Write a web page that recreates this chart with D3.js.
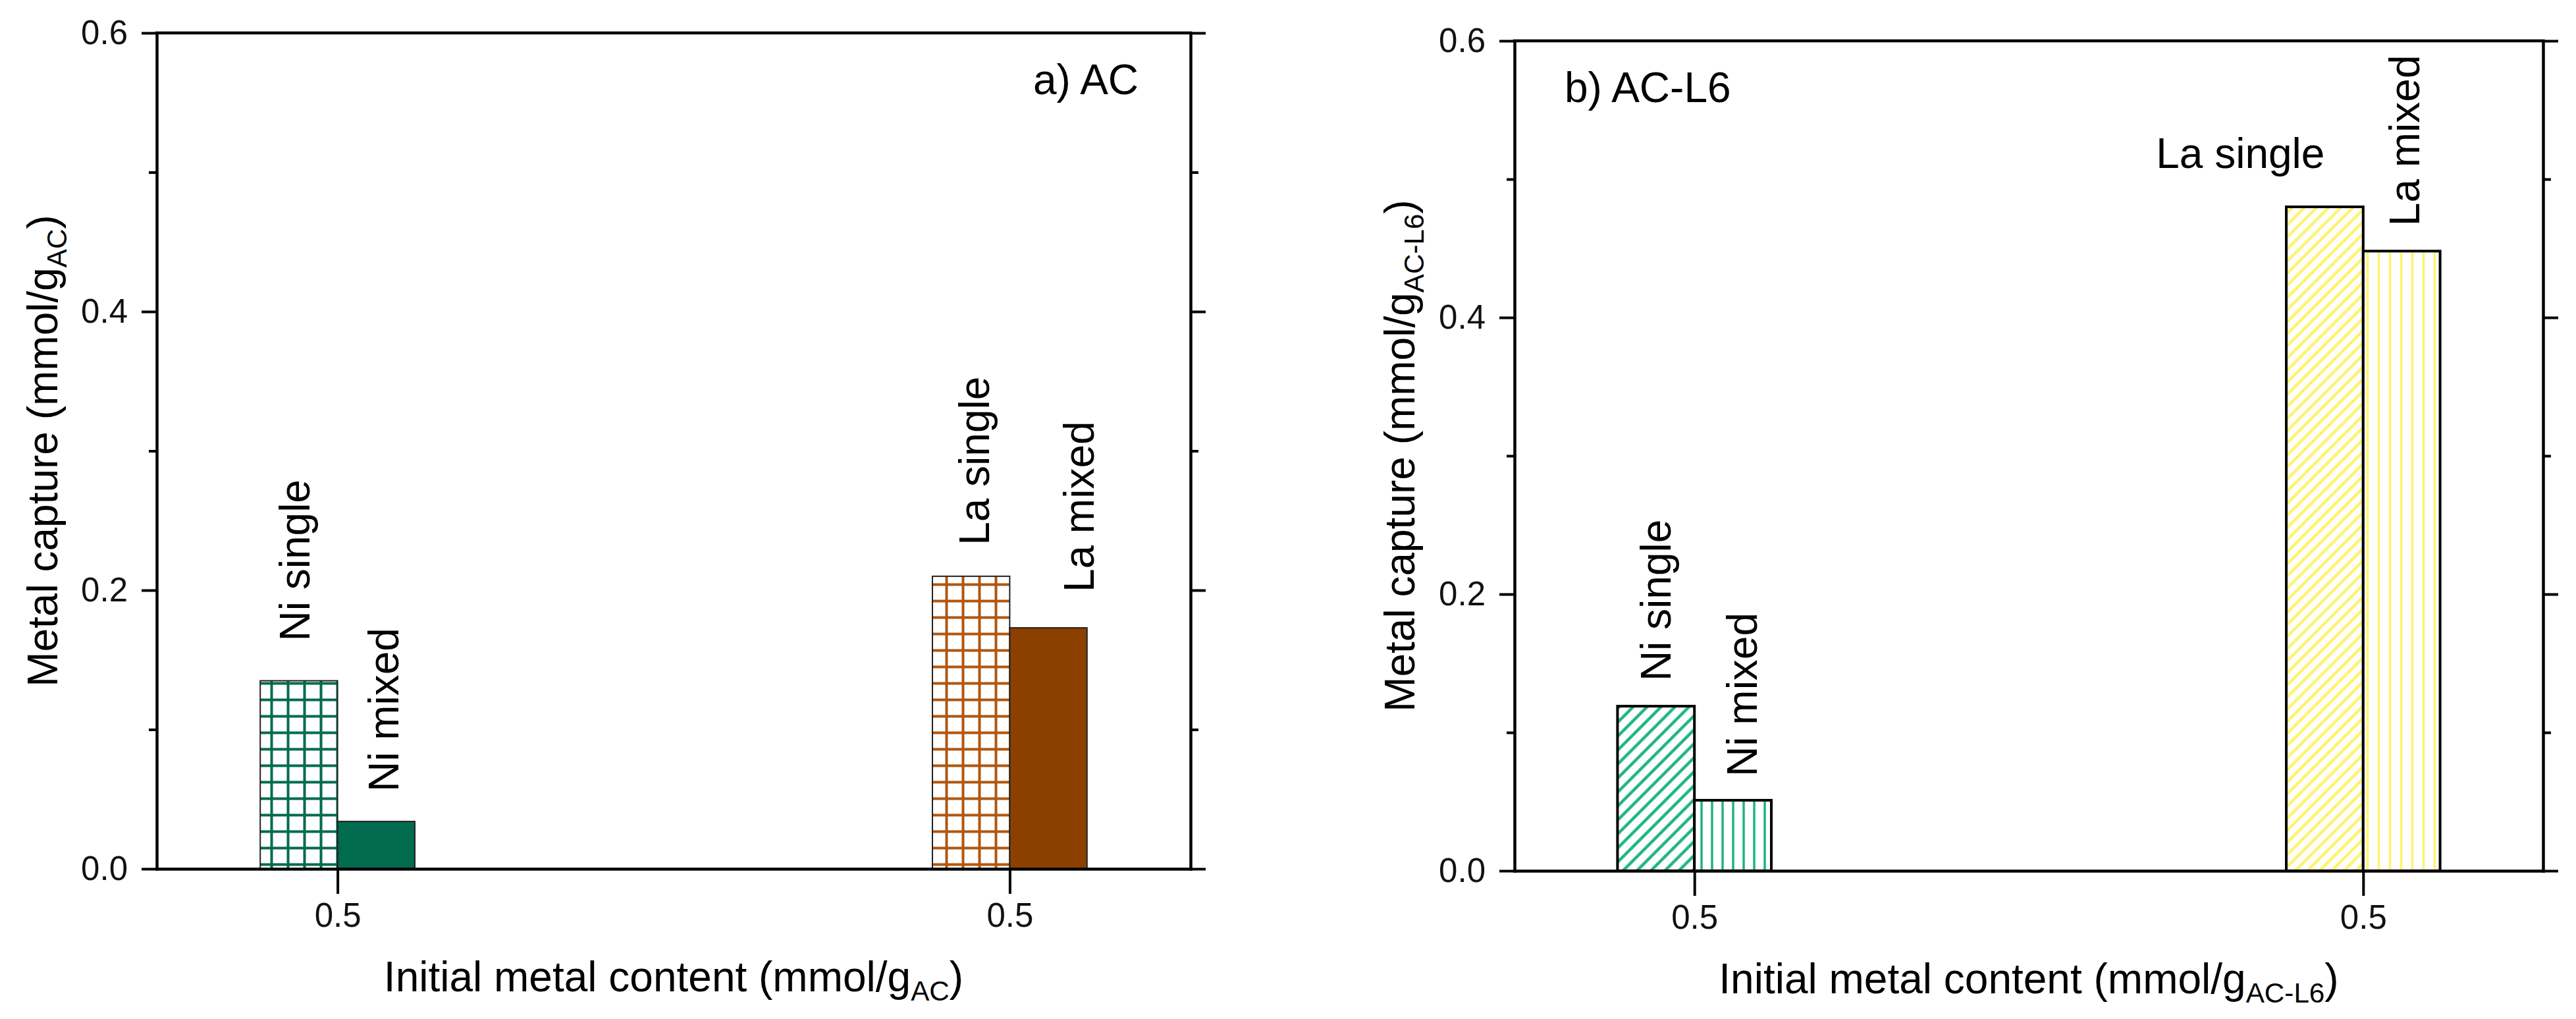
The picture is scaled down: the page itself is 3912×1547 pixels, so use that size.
<!DOCTYPE html>
<html>
<head>
<meta charset="utf-8">
<script src="https://cdn.jsdelivr.net/npm/d3@7"></script>
<style>
  body { margin: 0; background: #fff; }
  svg { display: block; font-family: "Liberation Sans", Arial, sans-serif; }
</style>
</head>
<body>
<svg width="3912" height="1547"></svg>
<script>
const svg = d3.select("svg");

// Values
const seriesNames = ["Ni single", "Ni mixed", "La single", "La mixed"];
const seriesGroup = [1, 1, 2, 2];          // x position of each bar's group
const captureAC = [0.135, 0.034, 0.21, 0.173];
const captureACL6 = [0.119, 0.051, 0.48, 0.448];
const xTickValues = [1, 2];
const xTickLabels = ["0.5", "0.5"];
const yMajorTicks = [0, 0.2, 0.4, 0.6];
const yMinorTicks = [0.1, 0.3, 0.5];

const FONT_TICK = 51;
const FONT_LABEL = 64;
const barWidth = 0.115;                    // in x-domain units
const barSide = [-1, 0, -1, 0];            // single bar left of the tick, mixed bar right of it

// hatch patterns
const defs = svg.append("defs");

const addPattern = (id, kind, color, opts) => {
    const p = defs.append("pattern")
        .attr("id", id)
        .attr("patternUnits", "userSpaceOnUse")
        .attr("width", opts.size)
        .attr("height", opts.size);
    if (kind === "diag") p.attr("patternTransform", "rotate(45)");
    p.append("rect").attr("width", opts.size).attr("height", opts.size).attr("fill", "#fff");
    const s = opts.size, h = s / 2;
    let d;
    if (kind === "grid") d = `M${h},0V${s}M0,${h}H${s}`;
    else d = `M${h},0V${s}`;
    p.append("path").attr("d", d)
        .attr("stroke", color)
        .attr("stroke-width", opts.width)
        .attr("fill", "none");
};

addPattern("gridNi", "grid", "#006b4f", { size: 25, width: 4 });
addPattern("gridLa", "grid", "#b0560f", { size: 25, width: 4 });
addPattern("diagNi", "diag", "#1db582", { size: 15, width: 4.5 });
addPattern("vertNi", "vert", "#1db582", { size: 16, width: 3.5 });
addPattern("diagLa", "diag", "#fff36e", { size: 13, width: 4.5 });
addPattern("vertLa", "vert", "#fff36e", { size: 17, width: 3.5 });

const panels = [
    {
        values: captureAC,
        left: 238, right: 1808, top: 50, bottom: 1319,
        fills: ["url(#gridNi)", "#006b4f", "url(#gridLa)", "#8c4000"],
        barStroke: "#222", barStrokeWidth: 2,
        // label offsets: dx from bar centre, gap above bar top, horizontal or rotated
        labels: [
            { dx: -7, gap: 60 }, { dx: 11, gap: 45 },
            { dx: 4, gap: 47 }, { dx: 46, gap: 54 }
        ],
        tag: "a) AC", tagX: 1569, tagY: 143,
        sub: "AC",
        yTitleX: 87, xTitleY: 1505
    },
    {
        values: captureACL6,
        left: 2300, right: 3862, top: 62, bottom: 1322,
        fills: ["url(#diagNi)", "url(#vertNi)", "url(#diagLa)", "url(#vertLa)"],
        barStroke: "#000", barStrokeWidth: 4,
        labels: [
            { dx: -1, gap: 38 }, { dx: 13, gap: 36 },
            { dx: 0, gap: 59, horizontal: true }, { dx: 4, gap: 38 }
        ],
        tag: "b) AC-L6", tagX: 2376, tagY: 155,
        sub: "AC-L6",
        yTitleX: 2148, xTitleY: 1508
    }
];

// text with a subscript part, e.g. (mmol/g_AC)
const addSubText = (text, main, sub) => {
    text.append("tspan").text(main);
    text.append("tspan").attr("font-size", FONT_LABEL * 0.66).attr("dy", 14).text(sub);
    text.append("tspan").attr("font-size", FONT_LABEL).attr("dy", -14).text(")");
};

const drawPanel = cfg => {
    const x = d3.scaleLinear().domain([0.731, 2.269]).range([cfg.left, cfg.right]);
    const y = d3.scaleLinear().domain([0, 0.6]).range([cfg.bottom, cfg.top]);

    const g = svg.append("g");

    const data = cfg.values.map((v, i) => ({
        name: seriesNames[i],
        value: v,
        x0: seriesGroup[i] + barSide[i] * barWidth,
        fill: cfg.fills[i],
        label: cfg.labels[i]
    }));

    // bars
    g.selectAll("rect.bar").data(data).enter().append("rect")
        .attr("class", "bar")
        .attr("x", d => x(d.x0))
        .attr("y", d => y(d.value))
        .attr("width", d => x(d.x0 + barWidth) - x(d.x0))
        .attr("height", d => y(0) - y(d.value))
        .attr("fill", d => d.fill)
        .attr("stroke", cfg.barStroke)
        .attr("stroke-width", cfg.barStrokeWidth);

    // bar labels
    g.selectAll("text.barlabel").data(data).enter().append("text")
        .attr("class", "barlabel")
        .attr("font-size", FONT_LABEL)
        .attr("fill", "#000")
        .attr("transform", d => {
            const cx = (x(d.x0) + x(d.x0 + barWidth)) / 2 + d.label.dx;
            const y0 = y(d.value) - d.label.gap;
            return d.label.horizontal ? `translate(${cx},${y0})` : `translate(${cx},${y0}) rotate(-90)`;
        })
        .attr("text-anchor", d => d.label.horizontal ? "end" : "start")
        .attr("dy", d => d.label.horizontal ? 0 : "0.36em")
        .text(d => d.name);

    // axes
    const styleAxis = sel => {
        sel.selectAll("path.domain").attr("stroke", "#000").attr("stroke-width", 4.5).attr("stroke-linecap", "square");
        sel.selectAll(".tick line").attr("stroke", "#000").attr("stroke-width", 4);
        sel.selectAll(".tick text").attr("font-size", FONT_TICK).attr("fill", "#111")
            .attr("font-family", "Liberation Sans, Arial, sans-serif");
    };

    const yLeft = g.append("g").attr("transform", `translate(${cfg.left},0)`)
        .call(d3.axisLeft(y).tickValues(yMajorTicks).tickSize(23).tickSizeOuter(0)
            .tickPadding(21).tickFormat(d3.format(".1f")));
    styleAxis(yLeft);

    g.append("g").attr("transform", `translate(${cfg.left},0)`)
        .call(d3.axisLeft(y).tickValues(yMinorTicks).tickSize(12).tickFormat(""))
        .call(a => a.select("path.domain").remove())
        .call(styleAxis);

    g.append("g").attr("transform", `translate(${cfg.right},0)`)
        .call(d3.axisRight(y).tickValues(yMajorTicks).tickSize(23).tickSizeOuter(0).tickFormat(""))
        .call(styleAxis);

    g.append("g").attr("transform", `translate(${cfg.right},0)`)
        .call(d3.axisRight(y).tickValues(yMinorTicks).tickSize(12).tickFormat(""))
        .call(a => a.select("path.domain").remove())
        .call(styleAxis);

    g.append("g").attr("transform", `translate(0,${cfg.bottom})`)
        .call(d3.axisBottom(x).tickValues(xTickValues).tickSize(38).tickSizeOuter(0)
            .tickPadding(14).tickFormat((d, i) => xTickLabels[i]))
        .call(styleAxis);

    g.append("line")
        .attr("x1", cfg.left).attr("x2", cfg.right)
        .attr("y1", cfg.top).attr("y2", cfg.top)
        .attr("stroke", "#000").attr("stroke-width", 4.5).attr("stroke-linecap", "square");

    // panel tag
    g.append("text")
        .attr("x", cfg.tagX).attr("y", cfg.tagY)
        .attr("font-size", FONT_LABEL)
        .text(cfg.tag);

    // axis titles
    const yTitle = g.append("text")
        .attr("text-anchor", "middle")
        .attr("font-size", FONT_LABEL)
        .attr("transform", `translate(${cfg.yTitleX},${(cfg.top + cfg.bottom) / 2}) rotate(-90)`);
    addSubText(yTitle, "Metal capture (mmol/g", cfg.sub);

    const xTitle = g.append("text")
        .attr("text-anchor", "middle")
        .attr("font-size", FONT_LABEL)
        .attr("x", (cfg.left + cfg.right) / 2)
        .attr("y", cfg.xTitleY);
    addSubText(xTitle, "Initial metal content (mmol/g", cfg.sub);
};

panels.forEach(drawPanel);
</script>
</body>
</html>
